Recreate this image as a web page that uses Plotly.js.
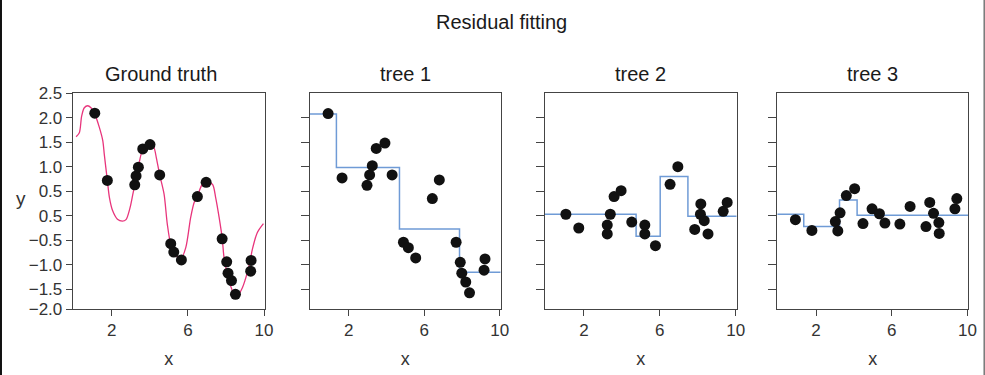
<!DOCTYPE html>
<html>
<head>
<meta charset="utf-8">
<script src="https://cdn.plot.ly/plotly-3.0.1.min.js"></script>
<style>
  html, body { margin: 0; padding: 0; background: #fff; }
  #chart { width: 985px; height: 375px; }
</style>
</head>
<body>
<div id="chart"></div>
<script>
// ---- data ----
const panelTitles = ["Ground truth", "tree 1", "tree 2", "tree 3"];
const mainTitle = "Residual fitting";

// ground-truth curve
const curveX = [0.13,0.30,0.42,0.56,0.74,0.91,1.09,1.35,1.53,1.61,1.77,1.88,2.05,2.30,2.56,2.75,2.96,3.10,3.21,3.40,3.55,3.75,4.00,4.20,4.35,4.52,4.75,4.92,5.10,5.36,5.63,5.89,6.15,6.33,6.50,6.76,6.97,7.29,7.46,7.64,7.81,7.90,8.16,8.43,8.60,8.87,9.13,9.27,9.39,9.65,9.97];
const curveY = [1.61,1.69,2.03,2.20,2.24,2.20,2.09,1.80,1.53,1.25,0.72,0.37,0.10,-0.07,-0.11,-0.08,0.16,0.42,0.63,0.99,1.26,1.43,1.47,1.41,1.17,0.83,0.44,-0.17,-0.58,-0.80,-0.88,-0.65,-0.03,0.27,0.40,0.64,0.68,0.64,0.37,-0.03,-0.48,-0.85,-1.32,-1.60,-1.63,-1.46,-1.15,-0.92,-0.68,-0.34,-0.16];

// observed points (ground truth panel)
const gtX = [1.11,1.77,3.21,3.28,3.40,3.63,4.01,4.52,5.10,5.26,5.66,6.50,6.96,7.80,8.04,8.11,8.29,8.50,9.32,9.30];
const gtY = [2.09,0.72,0.63,0.81,0.99,1.36,1.45,0.83,-0.57,-0.74,-0.90,0.39,0.68,-0.47,-0.94,-1.17,-1.32,-1.60,-0.91,-1.13];

// tree 1: residuals and step fit
const t1X = [0.91,1.65,2.97,3.11,3.25,3.46,3.92,4.30,4.90,5.16,5.55,6.43,6.80,7.69,7.91,7.99,8.20,8.40,9.22,9.17];
const t1Y = [2.08,0.77,0.62,0.83,1.02,1.37,1.48,0.83,-0.54,-0.65,-0.86,0.35,0.73,-0.54,-0.95,-1.17,-1.35,-1.57,-0.88,-1.11];
const step1X = [-0.05,1.35,4.69,7.87,10.05];
const step1Y = [2.07,0.98,-0.27,-1.15,-1.15];

// tree 2
const t2X = [1.05,1.73,3.23,3.23,3.39,3.59,3.96,4.52,5.21,5.21,5.77,6.54,6.95,7.84,8.14,8.16,8.34,8.54,9.34,9.55];
const t2Y = [0.03,-0.25,-0.19,-0.37,0.03,0.39,0.51,-0.13,-0.19,-0.37,-0.61,0.64,1.00,-0.28,0.03,0.24,-0.10,-0.37,0.09,0.27];
const step2X = [-0.05,4.75,6.02,7.48,10.05];
const step2Y = [0.03,-0.42,0.80,-0.01,-0.01];

// tree 3
const t3X = [0.91,1.78,3.02,3.15,3.27,3.60,4.04,4.48,4.96,5.35,5.64,6.43,6.97,7.81,8.01,8.21,8.49,8.51,9.34,9.44];
const t3Y = [-0.08,-0.30,-0.12,-0.31,0.06,0.41,0.55,-0.16,0.14,0.04,-0.15,-0.17,0.19,-0.22,0.27,0.05,-0.14,-0.36,0.14,0.35];
const step3X = [-0.05,1.35,3.24,4.17,10.05];
const step3Y = [0.03,-0.22,0.32,0.01,0.01];

// axis ticks
const xTickVals = [2, 6, 10];
const xTickText = ["2", "6", "10"];
const yTickVals = [2.5, 2.0, 1.5, 1.0, 0.5, 0.0, -0.5, -1.0, -1.5, -1.9];
const yTickText = ["2.5", "2.0", "1.5", "1.0", "0.5", "0.5", "\u22120.5", "\u22121.0", "\u22121.5", "\u22122.0"];
const yTickValsTree = [2.0, 1.5, 1.0, 0.5, 0.0, -0.5, -1.0, -1.5];

// ---- styling ----
const FONT = "Liberation Sans, Arial, Helvetica, sans-serif";
const pink = "#e8357c";
const blue = "#6f9bd6";
const dot = {color: "#111111", size: 11};

const xDomains = [[0.0738, 0.2690], [0.3147, 0.5083], [0.5533, 0.7479], [0.7891, 0.9831]];
const yDomain = [0.176, 0.752];

const traces = [];
function sfx(i) { return i === 0 ? "" : String(i + 1); }

traces.push({x: curveX, y: curveY, type: "scatter", mode: "lines",
  line: {color: pink, width: 1.3, shape: "spline", smoothing: 0.8},
  xaxis: "x", yaxis: "y", hoverinfo: "skip"});
traces.push({x: gtX, y: gtY, type: "scatter", mode: "markers", marker: dot, xaxis: "x", yaxis: "y"});

const steps = [[step1X, step1Y], [step2X, step2Y], [step3X, step3Y]];
const pts = [[t1X, t1Y], [t2X, t2Y], [t3X, t3Y]];
for (let k = 0; k < 3; k++) {
  const s = sfx(k + 1);
  traces.push({x: steps[k][0], y: steps[k][1], type: "scatter", mode: "lines",
    line: {color: blue, width: 1.5, shape: "hv"}, xaxis: "x" + s, yaxis: "y" + s});
  traces.push({x: pts[k][0], y: pts[k][1], type: "scatter", mode: "markers",
    marker: dot, xaxis: "x" + s, yaxis: "y" + s});
}

const layout = {
  width: 985, height: 375,
  margin: {l: 0, r: 0, t: 0, b: 0},
  paper_bgcolor: "#ffffff", plot_bgcolor: "#ffffff",
  showlegend: false,
  font: {family: FONT, color: "#333", size: 17},
  annotations: [],
  shapes: [
    {type: "line", xref: "paper", yref: "paper", x0: 0.001, x1: 0.001, y0: 0, y1: 1, line: {color: "#111", width: 2}},
    {type: "line", xref: "paper", yref: "paper", x0: 0.9992, x1: 0.9992, y0: 0, y1: 1, line: {color: "#777", width: 1.5}}
  ]
};

const titleX = [161, 405, 640.5, 872];
for (let i = 0; i < 4; i++) {
  const s = sfx(i);
  layout["xaxis" + s] = {
    domain: xDomains[i], anchor: "y" + s, range: [-0.05, 10.05],
    tickmode: "array", tickvals: xTickVals, ticktext: xTickText,
    ticks: "outside", ticklen: 6, tickwidth: 1, tickcolor: "#444",
    showline: true, linecolor: "#444", linewidth: 1, mirror: true,
    showgrid: false, zeroline: false,
    tickfont: {family: FONT, size: 17, color: "#333"},
    title: {text: "x", font: {family: FONT, size: 18, color: "#333"}, standoff: 12}
  };
  layout["yaxis" + s] = {
    domain: yDomain, anchor: "x" + s, range: [-1.9, 2.5],
    tickmode: "array",
    tickvals: i === 0 ? yTickVals : yTickValsTree,
    ticktext: i === 0 ? yTickText : undefined,
    showticklabels: i === 0,
    ticks: "outside", ticklen: i === 0 ? 6 : 8, tickwidth: 1, tickcolor: "#444",
    showline: true, linecolor: "#444", linewidth: 1, mirror: true,
    showgrid: false, zeroline: false,
    tickfont: {family: FONT, size: 17, color: "#333"}
  };
  layout.annotations.push({
    text: panelTitles[i], xref: "paper", yref: "paper",
    x: titleX[i] / 985, y: 1 - 74 / 375, xanchor: "center", yanchor: "middle",
    showarrow: false, font: {family: FONT, size: 20, color: "#1a1a1a"}
  });
}
layout.annotations.push({
  text: mainTitle, xref: "paper", yref: "paper",
  x: 501 / 985, y: 1 - 22 / 375, xanchor: "center", yanchor: "middle",
  showarrow: false, font: {family: FONT, size: 20, color: "#1a1a1a"}
});
layout.annotations.push({
  text: "y", xref: "paper", yref: "paper",
  x: 21 / 985, y: 1 - 199 / 375, xanchor: "center", yanchor: "middle",
  showarrow: false, font: {family: FONT, size: 19, color: "#333"}
});

Plotly.newPlot("chart", traces, layout, {displayModeBar: false, staticPlot: true});
</script>
</body>
</html>
